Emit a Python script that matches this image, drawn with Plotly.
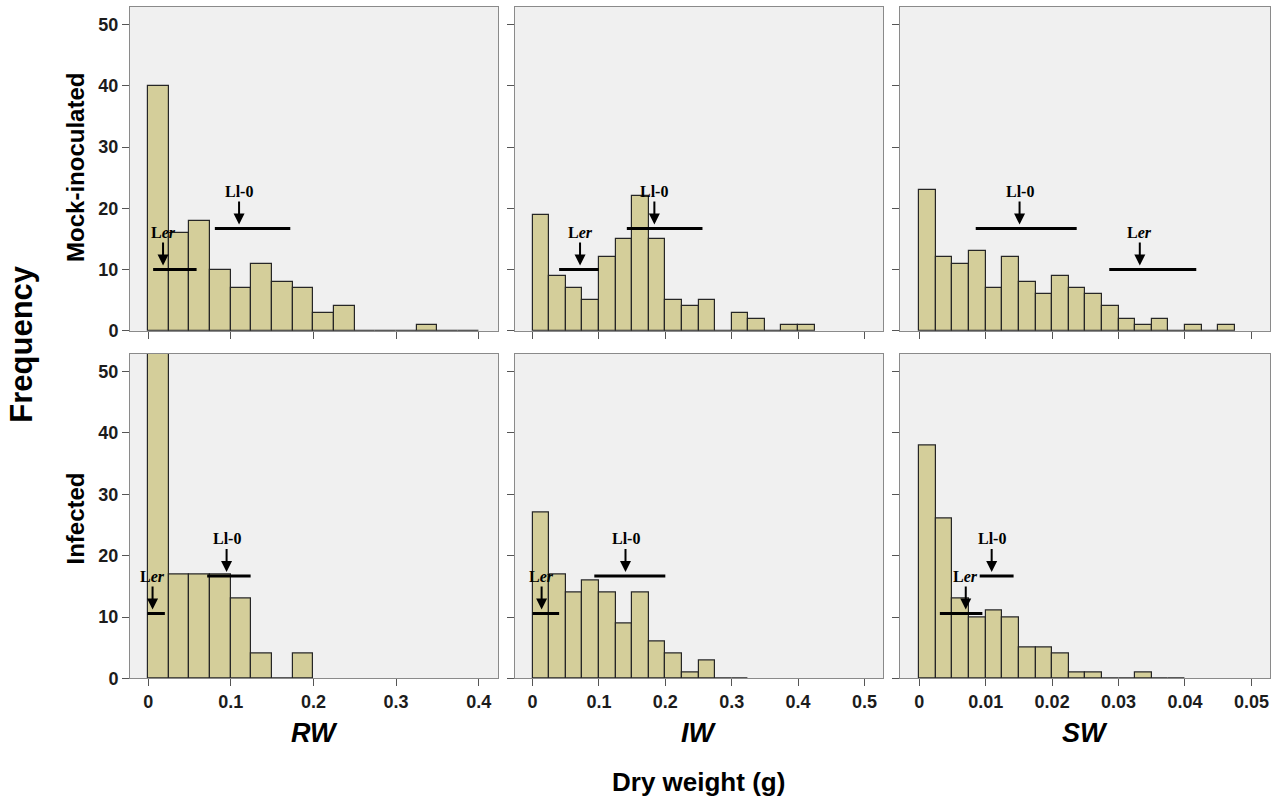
import plotly.graph_objects as go

# ---------------- data ----------------
variables = ["RW", "IW", "SW"]
treatments = ["Mock-inoculated", "Infected"]
bin_width = {"RW": 0.025, "IW": 0.025, "SW": 0.0025}

rw_mock = [40, 16, 18, 10, 7, 11, 8, 7, 3, 4, 0, 0, 0, 1, 0, 0]
iw_mock = [19, 9, 7, 5, 12, 15, 22, 15, 5, 4, 5, 0, 3, 2, 0, 1, 1]
sw_mock = [23, 12, 11, 13, 7, 12, 8, 6, 9, 7, 6, 4, 2, 1, 2, 0, 1, 0, 1]
rw_inf = [55, 17, 17, 17, 13, 4, 0, 4]
iw_inf = [27, 17, 14, 16, 14, 9, 14, 6, 4, 1, 3, 0, 0]
sw_inf = [38, 26, 13, 10, 11, 10, 5, 5, 4, 1, 1, 0, 0, 1, 0, 0]

# x tick values/labels per variable
rw_ticks = [0, 0.1, 0.2, 0.3, 0.4]
iw_ticks = [0, 0.1, 0.2, 0.3, 0.4, 0.5]
sw_ticks = [0, 0.01, 0.02, 0.03, 0.04, 0.05]
rw_ticklabels = ["0", "0.1", "0.2", "0.3", "0.4"]
iw_ticklabels = ["0", "0.1", "0.2", "0.3", "0.4", "0.5"]
sw_ticklabels = ["0", "0.01", "0.02", "0.03", "0.04", "0.05"]
y_ticks = [0, 10, 20, 30, 40, 50]

# parental lines (panel order: RW, IW, SW mock; RW, IW, SW infected)
ler_mean = [0.018, 0.0715, 0.0332, 0.0053, 0.0136, 0.0070]
ler_lo = [0.006, 0.040, 0.0286, -0.001, 0.0, 0.0031]
ler_hi = [0.0586, 0.0995, 0.0417, 0.0202, 0.040, 0.0095]
ler_level = [10, 10, 10, 10.6, 10.6, 10.6]
ll0_mean = [0.110, 0.1835, 0.0151, 0.0949, 0.140, 0.0109]
ll0_lo = [0.0807, 0.142, 0.0085, 0.0714, 0.093, 0.0091]
ll0_hi = [0.172, 0.256, 0.0237, 0.124, 0.200, 0.0142]
ll0_level = [16.7, 16.7, 16.7, 16.7, 16.7, 16.7]

counts = [rw_mock, iw_mock, sw_mock, rw_inf, iw_inf, sw_inf]
ticks = {"RW": (rw_ticks, rw_ticklabels), "IW": (iw_ticks, iw_ticklabels), "SW": (sw_ticks, sw_ticklabels)}

# ---------------- layout ----------------
W, H = 1283, 808
col_px = [(130, 498), (515, 883), (900, 1270)]
row_px = [(7, 335), (358, 687)]
x_ranges = {"RW": [-0.022, 0.4234], "IW": [-0.0265, 0.528], "SW": [-0.0029, 0.0528]}
y_range = [0, 52.9]

BAR = "rgb(212,206,154)"
EDGE = "#262626"
BG = "rgb(240,240,240)"
FRAME = "#8a8a8a"
TXT = "#1c1c1c"

fig = go.Figure()
shapes = []
annotations = []
layout_axes = {}

for r in range(2):
    for c in range(3):
        k = r * 3 + c
        suffix = "" if k == 0 else str(k + 1)
        xa, ya = "x" + suffix, "y" + suffix
        var = variables[c]
        w = bin_width[var]
        vals = counts[k]
        fig.add_trace(go.Bar(
            x=[(i + 0.5) * w for i in range(len(vals))], y=vals, width=w,
            marker=dict(color=BAR, line=dict(color=EDGE, width=1.2)),
            xaxis=xa, yaxis=ya, showlegend=False, hoverinfo="x+y"))
        tv, tl = ticks[var]
        layout_axes["xaxis" + suffix] = dict(
            domain=[col_px[c][0] / W, col_px[c][1] / W], range=x_ranges[var],
            anchor=ya, tickvals=tv, ticktext=tl, showticklabels=(r == 1),
            ticks="outside", ticklen=7, tickcolor="#555", tickwidth=1,
            showline=True, mirror=True, linecolor=FRAME, linewidth=1,
            showgrid=False, zeroline=False,
            tickfont=dict(family="Liberation Sans", size=18, color=TXT, weight="bold"))
        layout_axes["yaxis" + suffix] = dict(
            domain=[1 - row_px[r][1] / H, 1 - row_px[r][0] / H], range=y_range,
            anchor=xa, tickvals=y_ticks, showticklabels=(c == 0),
            ticks="outside", ticklen=7, tickcolor="#555", tickwidth=1,
            showline=True, mirror=True, linecolor=FRAME, linewidth=1,
            showgrid=False, zeroline=False,
            tickfont=dict(family="Liberation Sans", size=18, color=TXT, weight="bold"))

        # parental range bars + arrows
        for lo, hi, lvl, mean, label in [
            (ler_lo[k], ler_hi[k], ler_level[k], ler_mean[k], "<b>L<i>er</i></b>"),
            (ll0_lo[k], ll0_hi[k], ll0_level[k], ll0_mean[k], "<b>Ll-0</b>"),
        ]:
            shapes.append(dict(type="line", xref=xa, yref=ya, x0=lo, x1=hi, y0=lvl, y1=lvl,
                               line=dict(color="black", width=3)))
            annotations.append(dict(
                xref=xa, yref=ya, x=mean, y=lvl, text=label, showarrow=True,
                ax=0, ay=-37, arrowhead=2, arrowsize=1.1, arrowwidth=2, arrowcolor="black",
                standoff=4, font=dict(family="Liberation Serif", size=16, color="black")))

# outer labels
for c, var in enumerate(variables):
    annotations.append(dict(xref="paper", yref="paper",
                            x=(col_px[c][0] + col_px[c][1]) / 2 / W, y=1 - 742 / H,
                            text="<b><i>%s</i></b>" % var, showarrow=False,
                            font=dict(family="Liberation Sans", size=27, color="black"),
                            xanchor="center", yanchor="middle"))
annotations.append(dict(xref="paper", yref="paper", x=698 / W, y=1 - 792 / H,
                        text="<b>Dry weight (g)</b>", showarrow=False,
                        font=dict(family="Liberation Sans", size=26, color="black"),
                        xanchor="center", yanchor="middle"))
annotations.append(dict(xref="paper", yref="paper", x=22 / W, y=1 - 348 / H,
                        text="<b>Frequency</b>", showarrow=False, textangle=-90,
                        font=dict(family="Liberation Sans", size=31, color="black"),
                        xanchor="center", yanchor="middle"))
for r, name in enumerate(treatments):
    yc = 170 if r == 0 else 525
    annotations.append(dict(xref="paper", yref="paper", x=76 / W, y=1 - yc / H,
                            text="<b>%s</b>" % name, showarrow=False, textangle=-90,
                            font=dict(family="Liberation Sans", size=24, color="black"),
                            xanchor="center", yanchor="middle"))

fig.update_layout(
    width=W, height=H, margin=dict(l=0, r=0, t=0, b=0),
    paper_bgcolor="white", plot_bgcolor=BG,
    shapes=shapes, annotations=annotations, bargap=0,
    **layout_axes)

fig.write_html("out.html", config={"displayModeBar": False},
               post_script="document.body.style.margin='0';document.body.style.overflow='hidden';")
